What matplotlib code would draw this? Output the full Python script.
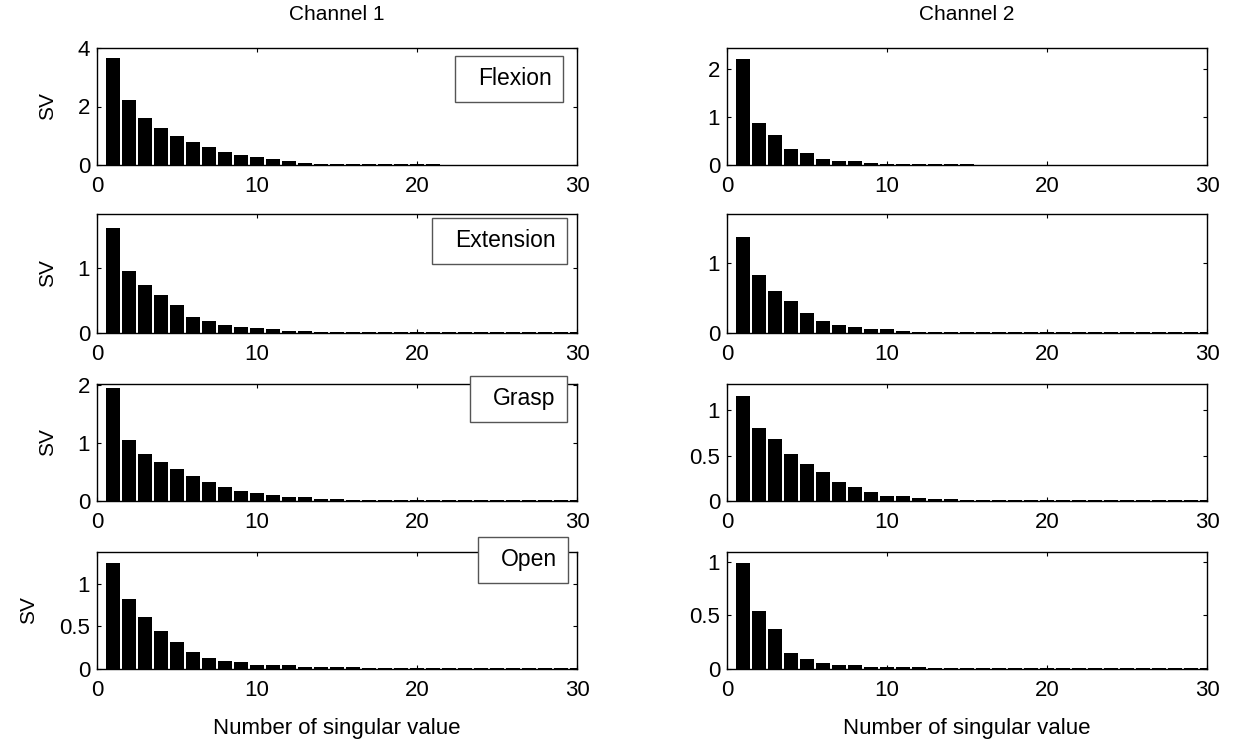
import numpy as np
import matplotlib.pyplot as plt
from matplotlib.lines import Line2D
from matplotlib.ticker import FormatStrFormatter

plt.rcParams['font.family'] = ['Liberation Sans', 'DejaVu Sans']

n = np.arange(1, 31)
motions = ['Flexion', 'Extension', 'Grasp', 'Open']

# singular values, channel 1
ch1_flexion = [3.65, 2.22, 1.62, 1.28, 1.00, 0.80, 0.60, 0.46, 0.33, 0.26,
               0.19, 0.13, 0.06, 0.04, 0.03, 0.03, 0.02, 0.02, 0.02, 0.02,
               0.02, 0.01, 0.01, 0.01, 0.01, 0.01, 0.01, 0.01, 0.01, 0.01]
ch1_extension = [1.61, 0.945, 0.73, 0.58, 0.43, 0.24, 0.18, 0.12, 0.09, 0.07,
                 0.06, 0.03, 0.03, 0.02, 0.02, 0.02, 0.01, 0.01, 0.01, 0.01,
                 0.01, 0.01, 0.01, 0.01, 0.01, 0.01, 0.01, 0.01, 0.01, 0.01]
ch1_grasp = [1.95, 1.06, 0.82, 0.68, 0.55, 0.44, 0.32, 0.25, 0.17, 0.13,
             0.10, 0.07, 0.07, 0.035, 0.03, 0.02, 0.02, 0.02, 0.02, 0.01,
             0.01, 0.01, 0.01, 0.01, 0.01, 0.01, 0.01, 0.01, 0.01, 0.01]
ch1_open = [1.24, 0.82, 0.61, 0.44, 0.32, 0.20, 0.13, 0.094, 0.078, 0.05,
            0.05, 0.05, 0.024, 0.024, 0.02, 0.02, 0.01, 0.01, 0.01, 0.01,
            0.01, 0.01, 0.01, 0.01, 0.01, 0.01, 0.01, 0.01, 0.01, 0.01]

# singular values, channel 2
ch2_flexion = [2.22, 0.87, 0.63, 0.34, 0.25, 0.13, 0.085, 0.085, 0.035, 0.03,
               0.02, 0.02, 0.02, 0.015, 0.015, 0.01, 0.01, 0.01, 0.01, 0.01,
               0.01, 0.01, 0.01, 0.01, 0.01, 0.01, 0.01, 0.01, 0.01, 0.01]
ch2_extension = [1.37, 0.83, 0.60, 0.46, 0.29, 0.17, 0.115, 0.086, 0.057, 0.057,
                 0.03, 0.02, 0.02, 0.015, 0.01, 0.01, 0.01, 0.01, 0.01, 0.01,
                 0.01, 0.01, 0.01, 0.01, 0.01, 0.01, 0.01, 0.01, 0.01, 0.01]
ch2_grasp = [1.16, 0.81, 0.68, 0.52, 0.41, 0.32, 0.21, 0.15, 0.10, 0.06,
             0.06, 0.03, 0.02, 0.02, 0.015, 0.01, 0.01, 0.01, 0.01, 0.01,
             0.01, 0.01, 0.01, 0.01, 0.01, 0.01, 0.01, 0.01, 0.01, 0.01]
ch2_open = [0.99, 0.54, 0.37, 0.15, 0.097, 0.06, 0.038, 0.038, 0.02, 0.02,
            0.015, 0.015, 0.01, 0.01, 0.01, 0.01, 0.01, 0.01, 0.01, 0.01,
            0.01, 0.01, 0.01, 0.01, 0.01, 0.01, 0.01, 0.01, 0.01, 0.01]

channel1 = [ch1_flexion, ch1_extension, ch1_grasp, ch1_open]
channel2 = [ch2_flexion, ch2_extension, ch2_grasp, ch2_open]

ylims = [(4.0, 2.45), (1.82, 1.69), (2.02, 1.29), (1.37, 1.09)]
yticks = [([0, 2, 4], [0, 1, 2]), ([0, 1], [0, 1]), ([0, 1, 2], [0, 0.5, 1]),
          ([0, 0.5, 1], [0, 0.5, 1])]

W, H = 1244, 746
fig = plt.figure(figsize=(W / 100, H / 100), dpi=100)

# axes boxes in pixels: (top, bottom)
rows_px = [(48, 165), (214, 333), (384, 501), (552, 669)]
cols_px = [(97, 577), (727, 1207)]

# legend box top-right corners, pixels
legend_px = [(563, 56), (567, 218), (567, 376), (568, 537)]

for r in range(4):
    top, bot = rows_px[r]
    for c in range(2):
        left, right = cols_px[c]
        ax = fig.add_axes([left / W, 1 - bot / H, (right - left) / W, (bot - top) / H])
        data = channel1[r] if c == 0 else channel2[r]
        ax.bar(n, data, width=0.9, color='black', edgecolor='none')
        ax.set_xlim(0, 30)
        ax.set_ylim(0, ylims[r][c])
        ax.set_xticks([0, 10, 20, 30])
        ax.set_yticks(yticks[r][c])
        ax.yaxis.set_major_formatter(FormatStrFormatter('%g'))
        ax.tick_params(direction='in', length=3, width=0.8, top=True, right=True,
                       labelsize=16)
        ax.tick_params(axis='x', pad=8)
        ax.tick_params(axis='y', pad=5)
        for s in ax.spines.values():
            s.set_linewidth(1.0)
        if c == 0:
            ax.set_ylabel('SV', fontsize=15, labelpad=15)
            lx, ly = legend_px[r]
            h = Line2D([], [], linestyle='none')
            ax.legend([h], [motions[r]], loc='upper right',
                      bbox_to_anchor=(lx / W, 1 - ly / H),
                      bbox_transform=fig.transFigure, borderaxespad=0,
                      fontsize=16.5, handlelength=0.4, handletextpad=0.1,
                      borderpad=0.5, fancybox=False, framealpha=1,
                      edgecolor='#555555')
        if r == 0:
            ax.set_title('Channel %d' % (c + 1), fontsize=15, pad=20)
        if r == 3:
            ax.set_xlabel('Number of singular value', fontsize=16, labelpad=12)

fig.savefig('out.png', dpi=100)
